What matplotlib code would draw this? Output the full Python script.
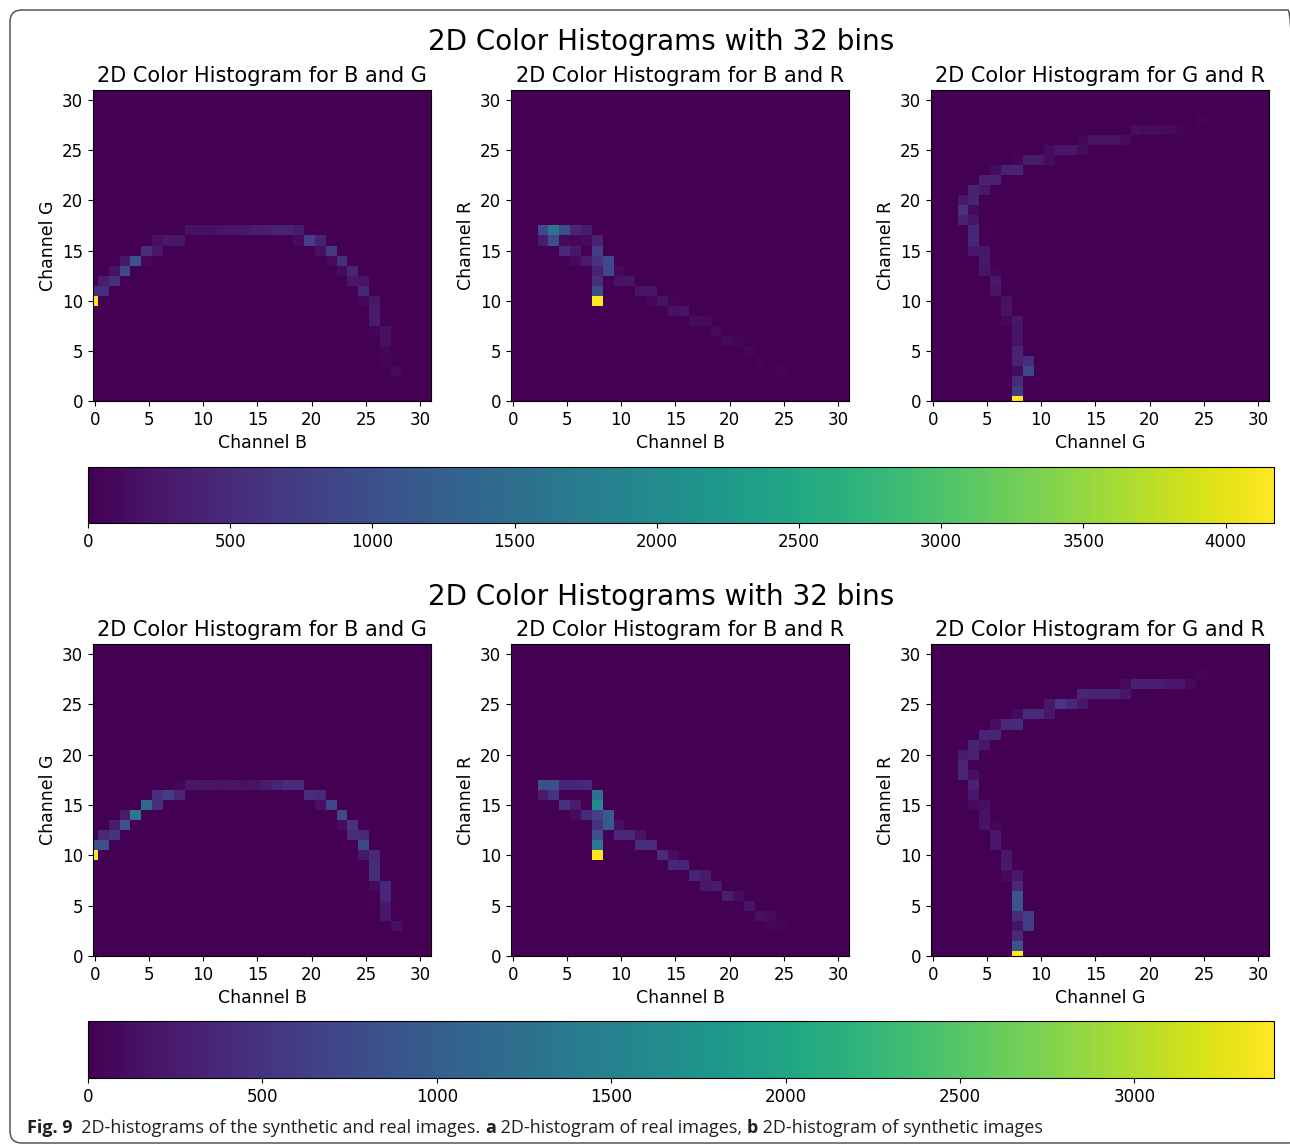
import numpy as np
import matplotlib
matplotlib.use('Agg')
from matplotlib import pyplot as plt
from matplotlib.patches import FancyBboxPatch
from matplotlib.transforms import IdentityTransform

N_BINS = 32
TICKS = np.arange(0, 31, 5)

# histogram counts, one entry per row: (row, first column, counts along the row)
real_bg = [
    (17, 9, [180, 180, 150, 230, 230, 250, 300, 330, 420, 420, 300]),
    (16, 6, [150, 250, 250]), (16, 19, [120, 750, 400]),
    (15, 5, [550, 250]), (15, 21, [150, 700]),
    (14, 3, [250, 1050, 80]), (14, 22, [100, 550]),
    (13, 2, [200, 900]), (13, 23, [100, 450]),
    (12, 1, [300, 550]), (12, 24, [250, 200]),
    (11, 0, [550, 550]), (11, 25, [450]),
    (10, 0, [4170]), (10, 25, [80, 250]),
    (9, 26, [300]), (8, 26, [300]), (7, 26, [40, 150]),
    (6, 27, [150]), (5, 27, [80]), (4, 27, [60]), (3, 28, [100]),
]
real_br = [
    (17, 3, [900, 1600, 1000, 450, 280]),
    (16, 3, [300, 950, 100, 80, 130, 400]),
    (15, 5, [500, 250]), (15, 8, [750]),
    (14, 6, [100, 280, 600, 900]),
    (13, 8, [400, 900, 100]),
    (12, 8, [550]), (12, 10, [180, 200]),
    (11, 8, [950]), (11, 12, [200, 200]),
    (10, 8, [4170]), (10, 13, [80, 200, 60]),
    (9, 15, [180, 200]), (8, 17, [130, 110]), (7, 19, [110]),
    (6, 20, [100, 50]), (5, 22, [70]), (4, 23, [40]), (3, 25, [40]),
]
real_gr = [
    (0, 8, [4170]), (1, 8, [700]), (2, 8, [500]),
    (3, 8, [130, 850]), (4, 8, [400, 550]), (5, 8, [400]),
    (6, 8, [200]), (7, 8, [200]), (8, 7, [80, 230]),
    (9, 7, [200]), (10, 7, [180]), (11, 6, [200]), (12, 6, [250]),
    (13, 5, [200, 50]), (14, 5, [270]), (15, 4, [250, 250]),
    (16, 4, [450]), (17, 4, [450]), (18, 3, [400, 230]),
    (19, 3, [600, 120]), (20, 3, [250, 400]), (21, 4, [400, 250]),
    (22, 5, [380, 380]), (23, 6, [100, 400, 400]),
    (24, 8, [60, 280, 280, 130]), (25, 11, [130, 250, 250, 110]),
    (26, 14, [70, 200, 200, 200, 120]),
    (27, 19, [150, 120, 120, 110, 60]), (28, 25, [40]),
]

synth_bg = [
    (17, 8, [50, 220, 200, 200, 180, 200, 150, 180, 250, 330, 420, 420]),
    (16, 6, [450, 600, 350]), (16, 20, [450, 380]),
    (15, 5, [1150, 450]), (15, 21, [120, 700]),
    (14, 3, [250, 1350]), (14, 23, [750]),
    (13, 2, [250, 850]), (13, 23, [100, 500]),
    (12, 1, [380, 500]), (12, 24, [420, 380]),
    (11, 0, [800, 800]), (11, 25, [750]),
    (10, 0, [3400]), (10, 25, [200, 380]),
    (9, 26, [420]), (8, 26, [420]), (7, 26, [80, 380]),
    (6, 27, [380]), (5, 27, [220]), (4, 27, [200]), (3, 28, [120]),
]
synth_br = [
    (17, 3, [800, 800, 350, 350, 380]),
    (16, 3, [250, 480]), (16, 8, [1250]),
    (15, 5, [480, 250]), (15, 8, [1600]),
    (14, 6, [100, 400, 650, 950]),
    (13, 8, [480, 950, 110]),
    (12, 8, [800]), (12, 10, [380, 380, 150]),
    (11, 8, [1350]), (11, 12, [420, 420]),
    (10, 8, [3400]), (10, 14, [420, 110]),
    (9, 15, [350, 350]), (8, 17, [330, 230]), (7, 18, [200, 230]),
    (6, 20, [300, 110]), (5, 22, [180]), (4, 23, [130, 100]),
    (3, 24, [50, 50]),
]
synth_gr = [
    (0, 8, [3400]), (1, 8, [850]), (2, 8, [380]),
    (3, 8, [180, 600]), (4, 8, [420, 600]), (5, 8, [850]),
    (6, 8, [850]), (7, 8, [380]), (8, 7, [80, 200]),
    (9, 7, [230]), (10, 7, [200]), (11, 6, [200]), (12, 6, [200]),
    (13, 5, [170, 50]), (14, 5, [170]), (15, 4, [90, 120]),
    (16, 4, [200]), (17, 4, [330]), (18, 3, [350, 120]),
    (19, 3, [350]), (20, 3, [230, 330]), (21, 4, [330, 200]),
    (22, 5, [350, 350]), (23, 6, [120, 400, 400]),
    (24, 8, [100, 400, 400, 200]), (25, 11, [200, 550, 380, 200]),
    (26, 14, [350, 330, 330, 330, 200]),
    (27, 18, [90, 300, 300, 280, 200, 200, 80]), (28, 25, [40]),
]

titles = ['2D Color Histogram for B and G',
          '2D Color Histogram for B and R',
          '2D Color Histogram for G and R']
xlabels = ['Channel B', 'Channel B', 'Channel G']
ylabels = ['Channel G', 'Channel R', 'Channel R']
suptitle = '2D Color Histograms with 32 bins'

W, H = 1290, 1145


def to_grid(cells):
    h = np.zeros((N_BINS, N_BINS))
    for row, col, vals in cells:
        h[row, col:col + len(vals)] = vals
    return h


def box(l, t, r, b):
    return [l / W, 1 - b / H, (r - l) / W, (b - t) / H]


fig = plt.figure(figsize=(W / 100, H / 100), dpi=100)

x_edges = np.arange(N_BINS + 1) - 0.7
y_edges = np.arange(N_BINS + 1) - 0.5
lefts = [93, 511, 931]

groups = [
    ([real_bg, real_br, real_gr], 90, 401, (467, 523), 42, np.arange(0, 4001, 500)),
    ([synth_bg, synth_br, synth_gr], 644, 956, (1021, 1078), 597, np.arange(0, 3001, 500)),
]

for hists, top, bottom, (cb_top, cb_bottom), title_y, cb_ticks in groups:
    grids = [to_grid(c) for c in hists]
    vmax = max(g.max() for g in grids)
    for i, grid in enumerate(grids):
        ax = fig.add_axes(box(lefts[i], top, lefts[i] + 338, bottom))
        mesh = ax.pcolormesh(x_edges, y_edges, grid, cmap='viridis', vmin=0, vmax=vmax)
        ax.set_xlim(-0.15, 31)
        ax.set_ylim(0, 31)
        ax.set_xticks(TICKS)
        ax.set_yticks(TICKS)
        ax.tick_params(labelsize=12)
        ax.set_title(titles[i], fontsize=15)
        ax.set_xlabel(xlabels[i], fontsize=12.5)
        ax.set_ylabel(ylabels[i], fontsize=12.5)
    cax = fig.add_axes(box(88, cb_top, 1274, cb_bottom))
    cb = fig.colorbar(mesh, cax=cax, orientation='horizontal')
    cb.set_ticks(cb_ticks)
    cb.ax.tick_params(labelsize=12)
    fig.text(661.5 / W, 1 - title_y / H, suptitle, fontsize=20, ha='center', va='center')

# rounded frame of the figure panel (right side runs off the picture)
frame = FancyBboxPatch((10, 2), 1290, 1133, boxstyle='round,pad=0,rounding_size=12',
                       transform=IdentityTransform(), fill=False, edgecolor='#555555',
                       linewidth=1.1)
fig.patches.append(frame)

# caption with bold parts
caption = [('Fig. 9', 'bold'), ('  2D-histograms of the synthetic and real images. ', 'normal'),
           ('a', 'bold'), (' 2D-histogram of real images, ', 'normal'),
           ('b', 'bold'), (' 2D-histogram of synthetic images', 'normal')]
renderer = fig.canvas.get_renderer()
x = 27
for text, weight in caption:
    t = fig.text(x / W, 1 - 1128 / H, text, fontsize=13, fontweight=weight,
                 family='Open Sans', color='#231f20', va='center', ha='left')
    x += t.get_window_extent(renderer).width

fig.savefig('out.png', dpi=100)
